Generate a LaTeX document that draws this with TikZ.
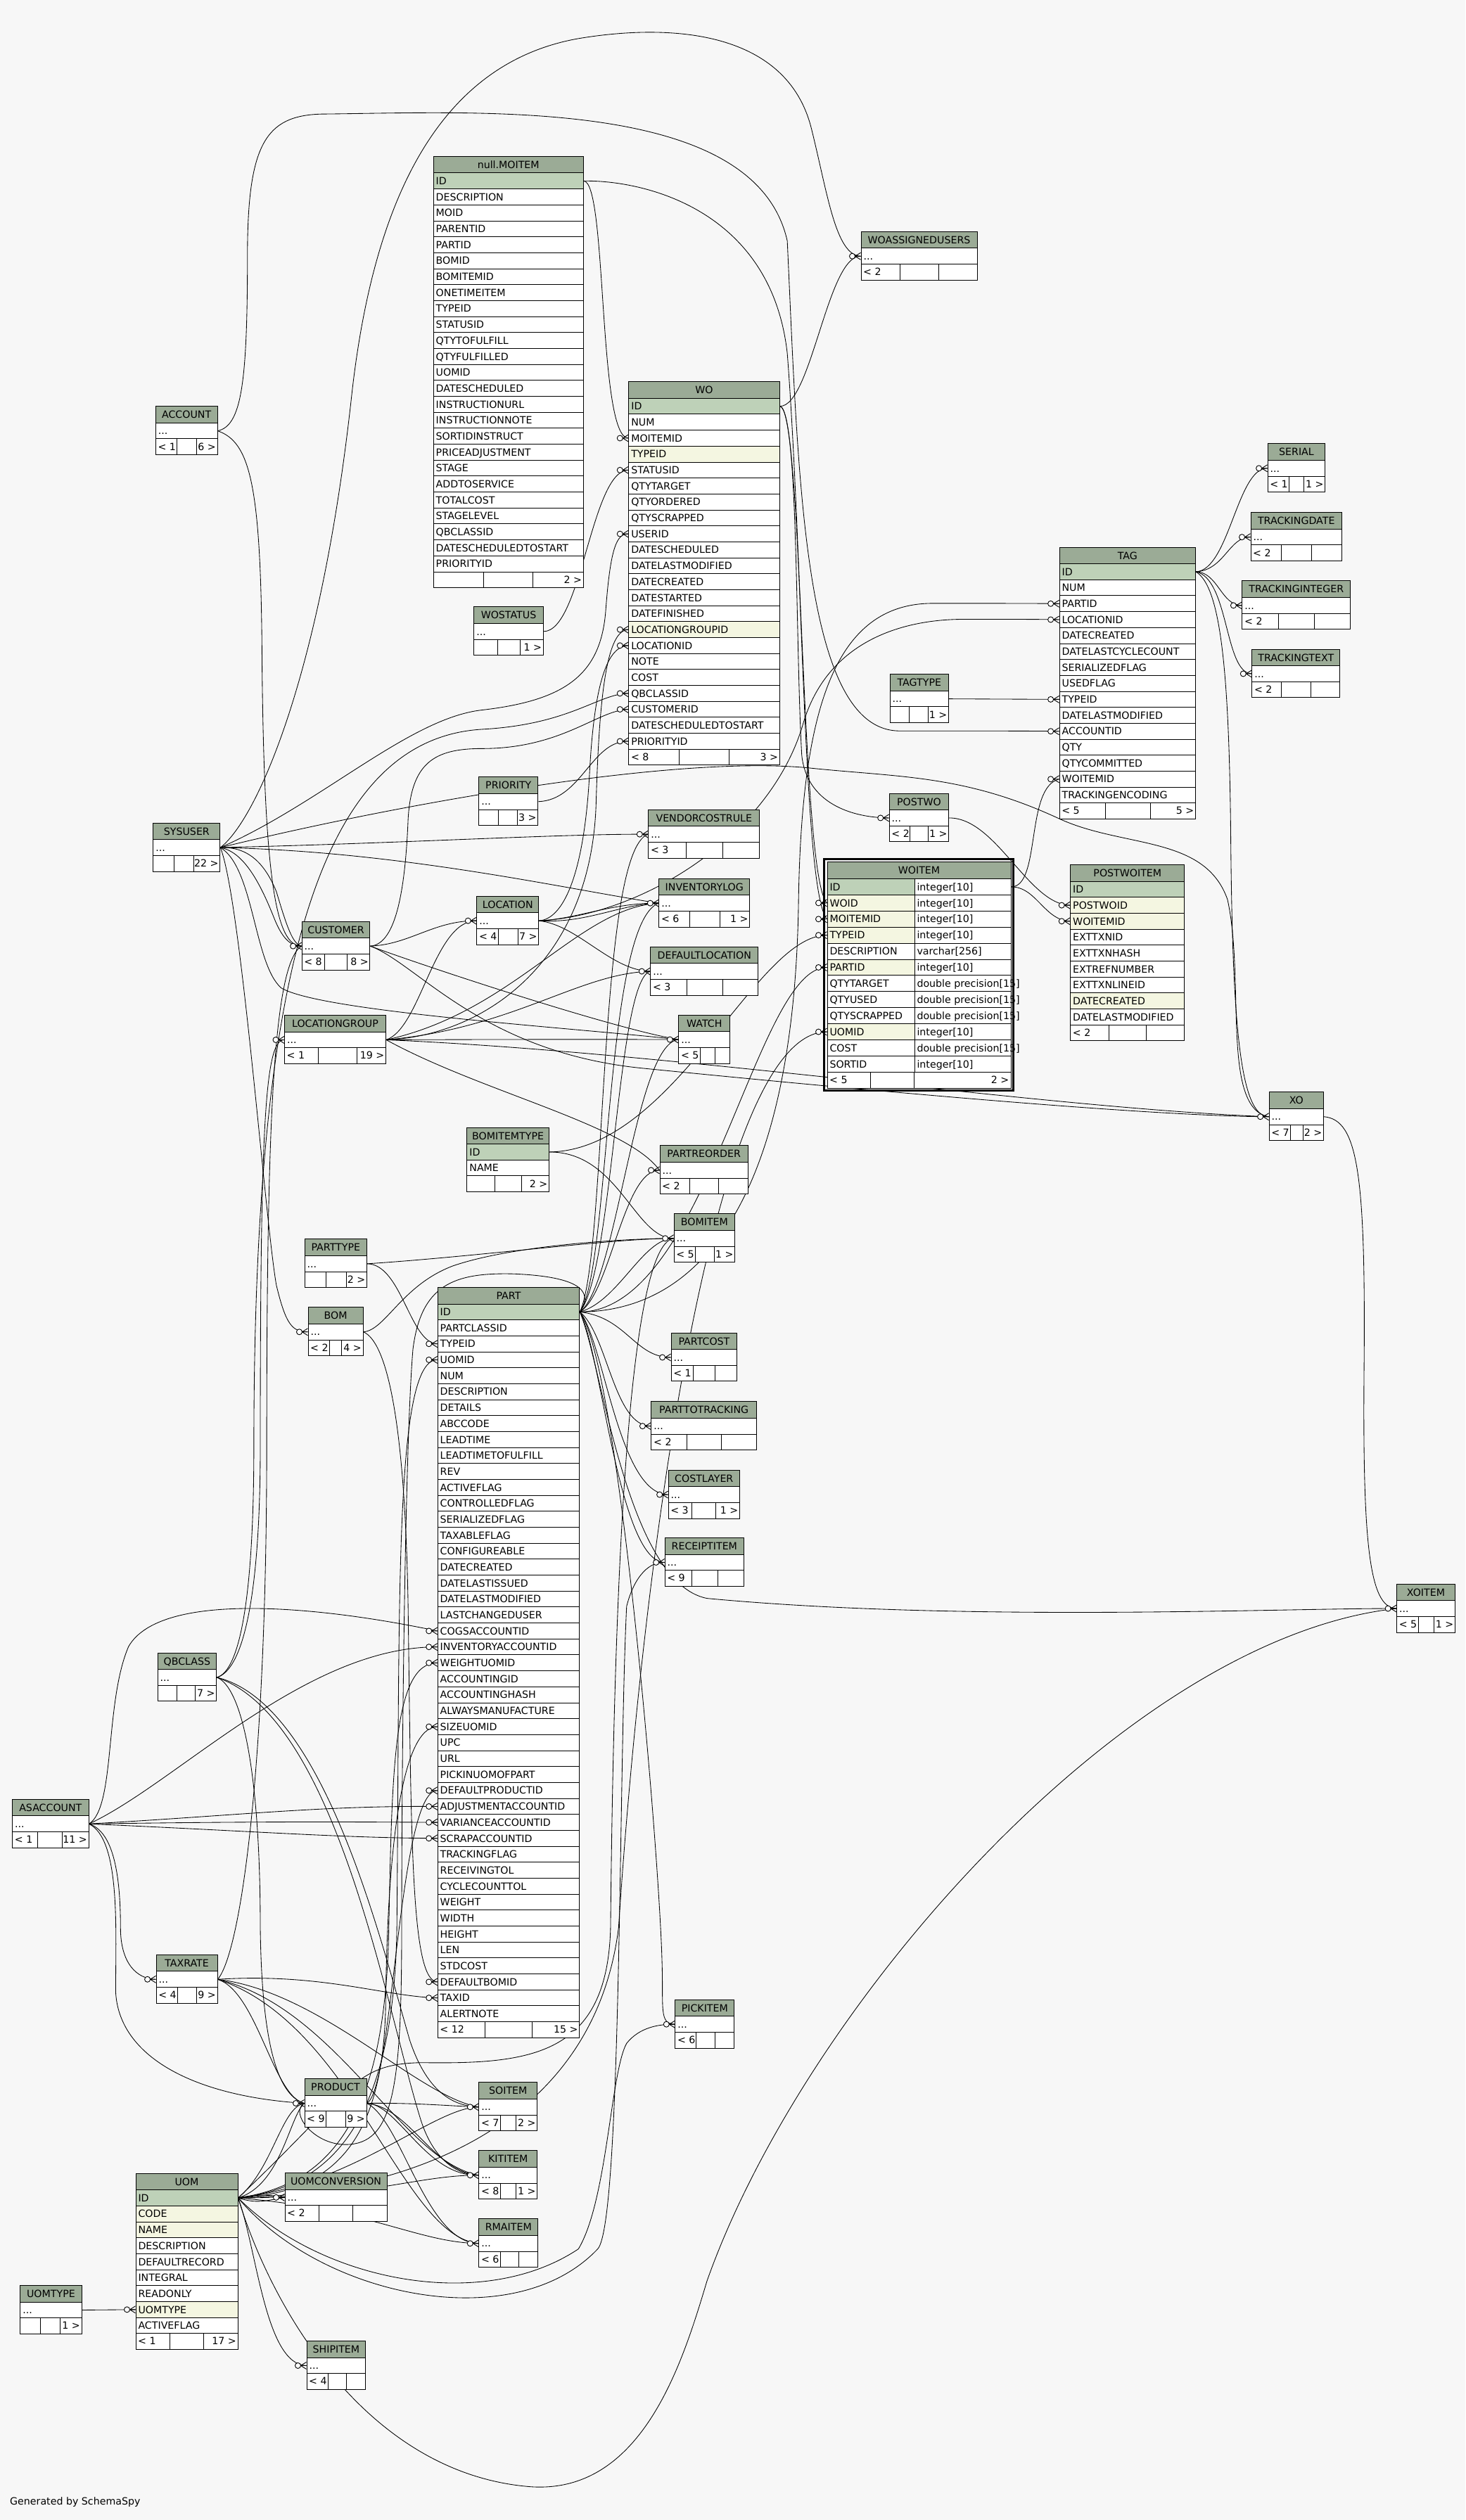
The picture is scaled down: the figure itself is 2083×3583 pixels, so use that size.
\documentclass[tikz,border=0pt]{standalone}
\usepackage{fontspec}
\setmainfont{DejaVu Sans}
\pgfdeclarelayer{back}
\pgfdeclarelayer{edges}
\pgfsetlayers{back,edges,main}
\definecolor{bgc}{HTML}{F7F7F7}
\definecolor{chd}{HTML}{9BAB96}
\definecolor{cp}{HTML}{BED1B8}
\definecolor{cy}{HTML}{F4F6E1}
\definecolor{cw}{HTML}{FFFFFF}
\newcommand\tfont{\fontsize{14.2}{17}\selectfont}
\tikzset{
  thd/.style={draw=black, line width=1pt, fill=chd, anchor=north west, inner sep=0pt, minimum height=23.6pt, text height=10.4pt, text depth=0pt, font=\tfont},
  trow/.style={draw=black, line width=1pt, anchor=north west, inner sep=0pt, minimum height=22.68pt, text height=10.4pt, text depth=0pt, font=\tfont},
  ftx/.style={inner sep=0pt, text height=10.4pt, text depth=0pt, font=\tfont},
  rel/.style={line width=0.85pt, draw=black},
  mk/.style={line width=0.9pt, draw=black},
}
\newcommand\dbt[6]{%
  \xdef\tbx{#2}\xdef\tby{#3}\xdef\tbw{#4}%
  \node[thd, minimum width=#4pt] (#1) at (#2,#3) {#5};
  \foreach[count=\i] \rk/\rt in {#6}{%
    \node[trow, fill=c\rk, minimum width=#4pt] (#1-\i) at (#2,{#3+23.6+(\i-1)*22.68}) {\makebox[#4pt][l]{\hspace{3.5pt}\rt}};
    \xdef\tbn{\i}%
  }%
}
\newcommand\dbf[5]{%
  \pgfmathsetmacro\fy{\tby+23.6+\tbn*22.68}%
  \node[trow, fill=white, minimum width=\tbw pt] (#1-f) at (\tbx,\fy) {};
  \draw[line width=1pt] (#2,\fy) -- (#2,\fy+22.68) (#3,\fy) -- (#3,\fy+22.68);
  \node[ftx, anchor=west] (#1-fl) at (\tbx+3.5,\fy+11.34) {#4};
  \node[ftx, anchor=east] (#1-fr) at (\tbx+\tbw-1.5,\fy+11.34) {#5};
}
\newcommand\smt[9]{%
  \node[thd, minimum width=#4pt] (#1) at (#2,#3) {#5};
  \node[trow, fill=white, minimum width=#4pt] (#1-1) at (#2,#3+23.6) {\makebox[#4pt][l]{\hspace{3.5pt}...}};
  \xdef\tbx{#2}\xdef\tby{#3}\xdef\tbw{#4}\xdef\tbn{1}%
  \dbf{#1}{#6}{#7}{#8}{#9}%
}
\newcommand\fkm[1]{%
  \draw[mk] ([xshift=-8pt]#1.west) -- ([yshift=5pt]#1.west) ([xshift=-8pt]#1.west) -- ([yshift=-5pt]#1.west) ([xshift=-8pt]#1.west) -- (#1.west);
  \draw[mk, fill=white] ([xshift=-12pt]#1.west) circle[radius=4pt];
}
\begin{document}
\begin{tikzpicture}[x=1pt,y=-1pt]
\begin{pgfonlayer}{back}
\fill[bgc] (0,0) rectangle (2083,3583);
\end{pgfonlayer}
\useasboundingbox (0,0) rectangle (2083,3583);

% ---------------- tables ----------------
\dbt{moi}{615.7}{221.9}{213}{null.MOITEM}{p/ID,w/DESCRIPTION,w/MOID,w/PARENTID,w/PARTID,w/BOMID,w/BOMITEMID,w/ONETIMEITEM,w/TYPEID,w/STATUSID,w/QTYTOFULFILL,w/QTYFULFILLED,w/UOMID,w/DATESCHEDULED,w/INSTRUCTIONURL,w/INSTRUCTIONNOTE,w/SORTIDINSTRUCT,w/PRICEADJUSTMENT,w/STAGE,w/ADDTOSERVICE,w/TOTALCOST,w/STAGELEVEL,w/QBCLASSID,w/DATESCHEDULEDTOSTART,w/PRIORITYID}
\dbf{moi}{687.3}{757.3}{}{2 >}

\dbt{wo}{893.3}{542.2}{214.4}{WO}{p/ID,w/NUM,w/MOITEMID,y/TYPEID,w/STATUSID,w/QTYTARGET,w/QTYORDERED,w/QTYSCRAPPED,w/USERID,w/DATESCHEDULED,w/DATELASTMODIFIED,w/DATECREATED,w/DATESTARTED,w/DATEFINISHED,y/LOCATIONGROUPID,w/LOCATIONID,w/NOTE,w/COST,w/QBCLASSID,w/CUSTOMERID,w/DATESCHEDULEDTOSTART,w/PRIORITYID}
\dbf{wo}{965.3}{1036.7}{< 8}{3 >}

\smt{wau}{1223.5}{328.8}{165}{WOASSIGNEDUSERS}{1279.2}{1334}{< 2}{}
\smt{acc}{220.8}{577.2}{87.7}{ACCOUNT}{251.4}{279.8}{< 1}{6 >}
\smt{sys}{217.4}{1169.6}{94.9}{SYSUSER}{247.6}{275.5}{}{22 >}
\smt{cus}{428.6}{1309.7}{96.8}{CUSTOMER}{461.5}{493.7}{< 8}{8 >}
\smt{lg}{404}{1443}{144}{LOCATIONGROUP}{452}{507}{< 1}{19 >}
\smt{wos}{673.3}{862.4}{98.4}{WOSTATUS}{707.3}{739.3}{}{1 >}
\smt{pri}{680.3}{1104.3}{84}{PRIORITY}{708.3}{735.7}{}{3 >}
\smt{vcr}{921.3}{1150.7}{158}{VENDORCOSTRULE}{975.3}{1027.3}{< 3}{}
\smt{loc}{677.3}{1273.7}{88}{LOCATION}{708.3}{736.3}{< 4}{7 >}
\smt{inv}{936.3}{1248.7}{129}{INVENTORYLOG}{980.3}{1023.3}{< 6}{1 >}
\smt{dl}{924.3}{1345.6}{153}{DEFAULTLOCATION}{976.3}{1027.7}{< 3}{}
\smt{wat}{964.3}{1442.6}{73}{WATCH}{995.7}{1016}{< 5}{}
\dbt{bit}{663.4}{1602.5}{116.5}{BOMITEMTYPE}{p/ID,w/NAME}
\dbf{bit}{703.6}{741.5}{}{2 >}
\smt{pro}{937.5}{1628.4}{125.4}{PARTREORDER}{980.4}{1021.4}{< 2}{}
\smt{bi}{957.6}{1725.3}{86.6}{BOMITEM}{988.4}{1015.6}{< 5}{1 >}
\smt{pt}{432.6}{1761.4}{88.4}{PARTTYPE}{463.4}{492.4}{}{2 >}
\smt{bom}{437.5}{1858.3}{78.1}{BOM}{468.3}{485.3}{< 2}{4 >}

\dbt{part}{621.7}{1829.9}{201.6}{PART}{p/ID,w/PARTCLASSID,w/TYPEID,w/UOMID,w/NUM,w/DESCRIPTION,w/DETAILS,w/ABCCODE,w/LEADTIME,w/LEADTIMETOFULFILL,w/REV,w/ACTIVEFLAG,w/CONTROLLEDFLAG,w/SERIALIZEDFLAG,w/TAXABLEFLAG,w/CONFIGUREABLE,w/DATECREATED,w/DATELASTISSUED,w/DATELASTMODIFIED,w/LASTCHANGEDUSER,w/COGSACCOUNTID,w/INVENTORYACCOUNTID,w/WEIGHTUOMID,w/ACCOUNTINGID,w/ACCOUNTINGHASH,w/ALWAYSMANUFACTURE,w/SIZEUOMID,w/UPC,w/URL,w/PICKINUOMOFPART,w/DEFAULTPRODUCTID,w/ADJUSTMENTACCOUNTID,w/VARIANCEACCOUNTID,w/SCRAPACCOUNTID,w/TRACKINGFLAG,w/RECEIVINGTOL,w/CYCLECOUNTTOL,w/WEIGHT,w/WIDTH,w/HEIGHT,w/LEN,w/STDCOST,w/DEFAULTBOMID,w/TAXID,w/ALERTNOTE}
\dbf{part}{689.3}{756.7}{< 12}{15 >}

\smt{pc}{953.6}{1894.5}{93.7}{PARTCOST}{985.3}{1016.5}{< 1}{}
\smt{ptt}{925.4}{1992.2}{149.6}{PARTTOTRACKING}{976.3}{1025.4}{< 2}{}
\smt{cl}{949.6}{2089.6}{101.3}{COSTLAYER}{983.9}{1017.4}{< 3}{1 >}
\smt{ri}{944.6}{2186}{112.5}{RECEIPTITEM}{983}{1020.5}{< 9}{}
\smt{qb}{223.5}{2349.5}{83.8}{QBCLASS}{251.4}{277.5}{}{7 >}
\smt{asa}{17.2}{2557.8}{108.3}{ASACCOUNT}{53.6}{88.8}{< 1}{11 >}
\smt{tax}{221.6}{2778.8}{86.9}{TAXRATE}{252.6}{279.8}{< 4}{9 >}
\smt{prod}{432.5}{2955}{88}{PRODUCT}{463.4}{491.4}{< 9}{9 >}
\smt{uc}{404.5}{3088.9}{145.1}{UOMCONVERSION}{453.1}{501.3}{< 2}{}
\dbt{uom}{192.5}{3089.6}{145}{UOM}{p/ID,y/CODE,y/NAME,w/DESCRIPTION,w/DEFAULTRECORD,w/INTEGRAL,w/READONLY,y/UOMTYPE,w/ACTIVEFLAG}
\dbf{uom}{241.5}{289.7}{< 1}{17 >}
\smt{ut}{28.3}{3249}{87.3}{UOMTYPE}{57.4}{85.3}{}{1 >}
\smt{ship}{435.5}{3328}{83.8}{SHIPITEM}{466}{492}{< 4}{}
\smt{pick}{959.3}{2842.7}{84}{PICKITEM}{989.3}{1016.3}{< 6}{}
\smt{so}{680.3}{2960.3}{83}{SOITEM}{711.3}{733.7}{< 7}{2 >}
\smt{kit}{680.3}{3057.3}{83}{KITITEM}{711.3}{733.7}{< 8}{1 >}
\smt{rma}{680.3}{3154.3}{84}{RMAITEM}{711.3}{737.3}{< 6}{}

\dbt{tag}{1505.6}{777.5}{193.3}{TAG}{p/ID,w/NUM,w/PARTID,w/LOCATIONID,w/DATECREATED,w/DATELASTCYCLECOUNT,w/SERIALIZEDFLAG,w/USEDFLAG,w/TYPEID,w/DATELASTMODIFIED,w/ACCOUNTID,w/QTY,w/QTYCOMMITTED,w/WOITEMID,w/TRACKINGENCODING}
\dbf{tag}{1571.3}{1635.5}{< 5}{5 >}
\smt{ser}{1801.6}{630.4}{81.7}{SERIAL}{1832}{1853.4}{< 1}{1 >}
\smt{td}{1777.5}{728.2}{129.5}{TRACKINGDATE}{1821.3}{1864.1}{< 2}{}
\smt{ti}{1765.4}{825.4}{153.6}{TRACKINGINTEGER}{1817.2}{1868.6}{< 2}{}
\smt{tt}{1779.3}{922.5}{125}{TRACKINGTEXT}{1821.3}{1863.2}{< 2}{}
\smt{tty}{1264.6}{958.2}{83.4}{TAGTYPE}{1292.2}{1319.5}{}{1 >}
\smt{pw}{1263.7}{1127.5}{84.5}{POSTWO}{1293.5}{1319.6}{< 2}{1 >}
\dbt{pwi}{1521.2}{1229}{162.2}{POSTWOITEM}{p/ID,y/POSTWOID,y/WOITEMID,w/EXTTXNID,w/EXTTXNHASH,w/EXTREFNUMBER,w/EXTTXNLINEID,y/DATECREATED,w/DATELASTMODIFIED}
\dbf{pwi}{1576.3}{1629.4}{< 2}{}
\smt{xo}{1803.6}{1552.3}{77.4}{XO}{1834.5}{1852.4}{< 7}{2 >}
\smt{xoi}{1985.1}{2251.6}{82.8}{XOITEM}{2016}{2038}{< 5}{1 >}

% WOITEM (detailed, two columns)
\node[thd, minimum width=261pt, minimum height=24pt] (woi) at (1175.5,1225) {WOITEM};
\foreach[count=\i] \rk/\ra/\rb in {p/ID/integer[10], y/WOID/integer[10], y/MOITEMID/integer[10], y/TYPEID/integer[10], w/DESCRIPTION/varchar[256], y/PARTID/integer[10], w/QTYTARGET/double precision[15], w/QTYUSED/double precision[15], w/QTYSCRAPPED/double precision[15], y/UOMID/integer[10], w/COST/double precision[15], w/SORTID/integer[10]}{
  \node[trow, fill=c\rk, minimum width=124pt, minimum height=22.9pt] (woi-\i) at (1175.5,{1249+(\i-1)*22.9}) {\makebox[124pt][l]{\hspace{3.5pt}\ra}};
  \node[trow, fill=white, minimum width=137pt, minimum height=22.9pt] (woi-t\i) at (1299.5,{1249+(\i-1)*22.9}) {\makebox[137pt][l]{\hspace{3.5pt}\rb}};
}
\node[trow, fill=white, minimum width=261pt, minimum height=22.9pt] (woi-f) at (1175.5,1523.8) {};
\draw[line width=1pt] (1237.5,1523.8) -- (1237.5,1546.7) (1299.5,1523.8) -- (1299.5,1546.7);
\node[ftx, anchor=west] (woi-fl) at (1179,1535.25) {< 5};
\node[ftx, anchor=east] (woi-fr) at (1434.5,1535.25) {2 >};
\draw[line width=3pt] (1171.5,1221) rectangle (1440.5,1550.5);

\node[ftx, anchor=west] (gen) at (14,3556) {Generated by SchemaSpy};

% ---------------- connectors ----------------
\begin{pgfonlayer}{edges}
\begin{scope}[x=2.284pt,y=-2.284pt]
% WO foreign keys
\draw[rel] (moi-1.east) .. controls (378,113) and (372,272.6) .. (wo-3.west);
\draw[rel] (wos-1.east) .. controls (362,393) and (368,292.5) .. (wo-5.west);
\draw[rel] (sys-1.east) .. controls (200,500) and (255,447) .. (300,442) .. controls (352,436) and (374,420) .. (377,380) .. controls (380,340) and (384,332.2) .. (wo-9.west);
\draw[rel] (lg-1.east) .. controls (300,645) and (368,600) .. (371,500) .. controls (373,430) and (378,392) .. (wo-15.west);
\draw[rel] (loc-1.east) .. controls (352,572) and (364,540) .. (367,480) .. controls (370,425) and (378,402) .. (wo-16.west);
\draw[rel] (qb-1.east) .. controls (150,1040) and (158,990) .. (158,900) .. controls (158,600) and (200,460) .. (300,454) .. controls (355,451) and (372,432) .. (wo-19.west);
\draw[rel] (cus-1.east) .. controls (245,588) and (252,560) .. (254,510) .. controls (256,475) and (270,466) .. (300,466) .. controls (350,466) and (372,442) .. (wo-20.west);
\draw[rel] (pri-1.east) .. controls (362,498) and (368,461) .. (wo-22.west);
% WO children
\draw[rel] (wo-1.east) .. controls (505,253) and (515,159) .. (wau-1.west);
\draw[rel] (wo-1.east) .. controls (500,253) and (498,545) .. (woi-2.west);
\draw[rel] (wo-1.east) .. controls (497,256) and (495,400) .. (499,470) .. controls (502,500) and (530,509) .. (pw-1.west);
\draw[rel] (sys-1.east) .. controls (160,510) and (200,420) .. (219,245) .. controls (232,130) and (270,40) .. (360,24) .. controls (420,14) and (490,20) .. (505,80) .. controls (515,120) and (520,159) .. (wau-1.west);
% WOITEM foreign keys
\draw[rel] (moi-1.east) .. controls (400,112) and (480,130) .. (490,220) .. controls (500,350) and (500,555) .. (woi-3.west);
\draw[rel] (bit-1.east) .. controls (420,716) and (470,582) .. (woi-4.west);
\draw[rel] (part-1.east) .. controls (440,816) and (470,602) .. (woi-6.west);
\draw[rel] (uom-1.east) .. controls (260,1365) and (370,1320) .. (385,1200) .. controls (398,1000) and (440,642) .. (woi-10.west);
% WOITEM children
\draw[rel] (woi-t1.east) .. controls (648,552) and (638,490) .. (tag-14.west);
\draw[rel] (woi-t1.east) .. controls (645,552) and (650,573) .. (pwi-3.west);
\draw[rel] (pw-1.east) .. controls (620,509) and (640,563) .. (pwi-2.west);
% TAG foreign keys
\draw[rel] (part-1.east) .. controls (450,816) and (495,720) .. (497,560) .. controls (499,440) and (520,376) .. (580,375.6) .. controls (620,375.6) and (640,375.6) .. (tag-3.west);
\draw[rel] (loc-1.east) .. controls (400,570) and (480,520) .. (500,450) .. controls (515,400) and (560,385.5) .. (600,385.5) .. controls (630,385.5) and (645,385.5) .. (tag-4.west);
\draw[rel] (tty-1.east) -- (tag-9.west);
\draw[rel] (acc-1.east) .. controls (150,265) and (154,240) .. (154,160) .. controls (154,90) and (165,72) .. (200,71) .. controls (300,70) and (470,60) .. (490,150) .. controls (497,300) and (500,455) .. (560,455) .. controls (610,455) and (640,455) .. (tag-11.west);
% TAG children
\draw[rel] (tag-1.east) .. controls (765,355) and (770,291) .. (ser-1.west);
\draw[rel] (tag-1.east) .. controls (762,355) and (765,334) .. (td-1.west);
\draw[rel] (tag-1.east) .. controls (758,356) and (760,377) .. (ti-1.west);
\draw[rel] (tag-1.east) .. controls (765,360) and (762,419) .. (tt-1.west);
\draw[rel] (tag-1.east) .. controls (760,365) and (765,420) .. (766,520) .. controls (767,640) and (772,695) .. (xo-1.west);
% XO
\draw[rel] (lg-1.east) .. controls (420,655) and (650,690) .. (xo-1.west);
\draw[rel] (cus-1.east) .. controls (260,600) and (300,655) .. (400,665) .. controls (550,680) and (720,695) .. (xo-1.west);
\draw[rel] (sys-1.east) .. controls (250,500) and (420,470) .. (503,478) .. controls (560,484) and (600,482) .. (660,510) .. controls (700,528) and (750,520) .. (764,560) .. controls (775,610) and (760,690) .. (xo-1.west);
\draw[rel] (xo-1.east) .. controls (845,697) and (850,730) .. (849,850) .. controls (848,960) and (852,1001) .. (xoi-1.west);
\draw[rel] (part-1.east) .. controls (375,850) and (390,985) .. (440,995) .. controls (600,1010) and (800,1001) .. (xoi-1.west);
\draw[rel] (uom-1.east) .. controls (170,1440) and (230,1540) .. (330,1548) .. controls (400,1553) and (425,1470) .. (440,1420) .. controls (500,1250) and (700,1020) .. (xoi-1.west);
% PART foreign keys
\draw[rel] (pt-1.east) .. controls (250,787) and (255,836) .. (part-3.west);
\draw[rel] (uom-1.east) .. controls (200,1362) and (245,1330) .. (247,1200) .. controls (249,1000) and (245,846) .. (part-4.west);
\draw[rel] (asa-1.east) .. controls (72,1125) and (65,1060) .. (80,1025) .. controls (100,990) and (200,1000) .. (part-21.west);
\draw[rel] (asa-1.east) .. controls (110,1110) and (190,1025) .. (part-22.west);
\draw[rel] (uom-1.east) .. controls (205,1360) and (240,1320) .. (242,1200) .. controls (244,1100) and (245,1035) .. (part-23.west);
\draw[rel] (uom-1.east) .. controls (210,1365) and (238,1330) .. (240,1250) .. controls (241,1150) and (250,1075) .. (part-27.west);
\draw[rel] (prod-1.east) .. controls (245,1300) and (248,1114) .. (part-31.west);
\draw[rel] (asa-1.east) .. controls (150,1130) and (200,1124) .. (part-32.west);
\draw[rel] (asa-1.east) .. controls (150,1134) and (200,1134) .. (part-33.west);
\draw[rel] (asa-1.east) .. controls (160,1140) and (210,1144) .. (part-34.west);
\draw[rel] (bom-1.east) .. controls (240,835) and (252,880) .. (254,1000) .. controls (256,1150) and (256,1233) .. (part-43.west);
\draw[rel] (tax-1.east) .. controls (200,1228) and (240,1243) .. (part-44.west);
% PART children
\draw[rel] (part-1.east) .. controls (380,805) and (388,728) .. (pro-1.west);
\draw[rel] (part-1.east) .. controls (385,810) and (400,771) .. (bi-1.west);
\draw[rel] (part-1.east) .. controls (390,820) and (395,845) .. (pc-1.west);
\draw[rel] (part-1.east) .. controls (378,830) and (382,888) .. (ptt-1.west);
\draw[rel] (part-1.east) .. controls (376,835) and (385,930) .. (cl-1.west);
\draw[rel] (part-1.east) .. controls (374,840) and (385,972) .. (ri-1.west);
\draw[rel] (part-1.east) .. controls (380,790) and (376,575) .. (inv-1.west);
\draw[rel] (part-1.east) .. controls (382,790) and (384,610) .. (dl-1.west);
\draw[rel] (part-1.east) .. controls (378,780) and (372,530) .. (vcr-1.west);
\draw[rel] (part-1.east) .. controls (384,800) and (395,650) .. (wat-1.west);
\draw[rel] (part-1.east) .. controls (368,806) and (366,795) .. (320,793) .. controls (282,792) and (262,800) .. (257,840) .. controls (252,900) and (250,1100) .. (250,1200) .. controls (250,1300) and (245,1335) .. (215,1335) .. controls (195,1335) and (180,1315) .. (prod-1.west);
\draw[rel] (part-1.east) .. controls (385,850) and (410,1150) .. (412,1220) .. controls (413,1250) and (410,1260) .. (pick-1.west);
% BOMITEM, BOM
\draw[rel] (bit-1.east) .. controls (385,717) and (395,771) .. (bi-1.west);
\draw[rel] (pt-1.east) .. controls (300,782) and (380,771) .. (bi-1.west);
\draw[rel] (bom-1.east) .. controls (240,828) and (250,800) .. (282,788) .. controls (320,775) and (390,771) .. (bi-1.west);
\draw[rel] (sys-1.east) .. controls (150,560) and (165,760) .. (172,800) .. controls (178,825) and (182,829) .. (bom-1.west);
% LOCATION, LOCATIONGROUP, CUSTOMER
\draw[rel] (lg-1.east) .. controls (262,640) and (270,573) .. (loc-1.west);
\draw[rel] (cus-1.east) .. controls (255,588) and (270,573) .. (loc-1.west);
\draw[rel] (qb-1.east) .. controls (150,1040) and (162,1000) .. (162,900) .. controls (162,700) and (165,647) .. (lg-1.west);
\draw[rel] (sys-1.east) .. controls (150,530) and (160,545) .. (170,570) .. controls (175,583) and (180,589) .. (cus-1.west);
\draw[rel] (sys-1.east) .. controls (155,527) and (165,538) .. (172,555) .. controls (178,575) and (182,588) .. (cus-1.west);
\draw[rel] (tax-1.east) .. controls (150,1215) and (166,1100) .. (166,900) .. controls (166,700) and (170,600) .. (cus-1.west);
\draw[rel] (acc-1.east) .. controls (155,275) and (162,300) .. (163,400) .. controls (164,550) and (172,589) .. (cus-1.west);
% VENDORCOSTRULE, INVENTORYLOG, DEFAULTLOCATION, WATCH, PARTREORDER
\draw[rel] (sys-1.east) .. controls (250,525) and (350,519) .. (vcr-1.west);
\draw[rel] (sys-1.east) .. controls (250,530) and (350,553) .. (inv-1.west);
\draw[rel] (lg-1.east) .. controls (320,630) and (360,565) .. (inv-1.west);
\draw[rel] (loc-1.east) .. controls (360,572) and (380,562) .. (inv-1.west);
\draw[rel] (loc-1.east) .. controls (365,575) and (385,563) .. (inv-1.west);
\draw[rel] (loc-1.east) .. controls (360,576) and (380,604) .. (dl-1.west);
\draw[rel] (lg-1.east) .. controls (320,640) and (360,606) .. (dl-1.west);
\draw[rel] (lg-1.east) .. controls (320,647) and (380,647) .. (wat-1.west);
\draw[rel] (sys-1.east) .. controls (158,540) and (158,600) .. (175,615) .. controls (200,630) and (360,640) .. (wat-1.west);
\draw[rel] (cus-1.east) .. controls (260,600) and (380,640) .. (wat-1.west);
\draw[rel] (lg-1.east) .. controls (300,680) and (390,700) .. (pro-1.west);
% PRODUCT, TAXRATE
\draw[rel] (asa-1.east) .. controls (75,1145) and (72,1200) .. (72,1240) .. controls (74,1280) and (120,1305) .. (prod-1.west);
\draw[rel] (qb-1.east) .. controls (150,1050) and (162,1100) .. (162,1200) .. controls (163,1280) and (175,1305) .. (prod-1.west);
\draw[rel] (tax-1.east) .. controls (160,1240) and (170,1305) .. (prod-1.west);
\draw[rel] (uom-1.east) .. controls (170,1350) and (175,1312) .. (prod-1.west);
\draw[rel] (uom-1.east) .. controls (175,1360) and (180,1318) .. (prod-1.west);
\draw[rel] (asa-1.east) .. controls (70,1140) and (75,1165) .. (75,1200) .. controls (75,1222) and (85,1232) .. (tax-1.west);
% SOITEM, KITITEM, RMAITEM
\draw[rel] (prod-1.east) .. controls (260,1309) and (280,1311) .. (so-1.west);
\draw[rel] (tax-1.east) .. controls (200,1240) and (260,1305) .. (so-1.west);
\draw[rel] (uom-1.east) .. controls (220,1360) and (270,1312) .. (so-1.west);
\draw[rel] (qb-1.east) .. controls (200,1060) and (235,1200) .. (255,1270) .. controls (265,1300) and (280,1311) .. (so-1.west);
\draw[rel] (prod-1.east) .. controls (255,1312) and (270,1352) .. (kit-1.west);
\draw[rel] (prod-1.east) .. controls (248,1310) and (265,1355) .. (kit-1.west);
\draw[rel] (tax-1.east) .. controls (210,1250) and (250,1345) .. (kit-1.west);
\draw[rel] (uom-1.east) .. controls (230,1368) and (260,1354) .. (kit-1.west);
\draw[rel] (qb-1.east) .. controls (210,1070) and (240,1250) .. (262,1320) .. controls (270,1345) and (285,1354) .. (kit-1.west);
\draw[rel] (prod-1.east) .. controls (250,1320) and (265,1396) .. (rma-1.west);
\draw[rel] (tax-1.east) .. controls (220,1260) and (250,1392) .. (rma-1.west);
\draw[rel] (uom-1.east) .. controls (230,1375) and (260,1396) .. (rma-1.west);
% UOM children
\draw[rel] (uom-1.east) .. controls (160,1400) and (165,1472) .. (ship-1.west);
\draw[rel] (uom-1.east) .. controls (160,1366) and (165,1366) .. (uc-1.west);
\draw[rel] (uom-1.east) .. controls (160,1372) and (165,1370) .. (uc-1.west);
\draw[rel] (ut-1.east) -- (uom-8.west);
\draw[rel] (uom-1.east) .. controls (200,1420) and (300,1440) .. (360,1400) .. controls (378,1370) and (380,1290) .. (390,1272) .. controls (398,1262) and (410,1260) .. (pick-1.west);
\draw[rel] (uom-1.east) .. controls (200,1430) and (320,1455) .. (372,1400) .. controls (387,1384) and (385,1100) .. (390,1000) .. controls (395,980) and (405,972) .. (ri-1.west);
\draw[rel] (uom-1.east) .. controls (220,1300) and (220,1285) .. (262,1284) .. controls (330,1285) and (378,1280) .. (380,1200) .. controls (382,1000) and (390,775) .. (bi-1.west);
\end{scope}
\end{pgfonlayer}

% ---------------- crow's-foot markers ----------------
\foreach \n in {wo-3,wo-5,wo-9,wo-15,wo-16,wo-19,wo-20,wo-22,wau-1,woi-2,woi-3,woi-4,woi-6,woi-10,tag-3,tag-4,tag-9,tag-11,tag-14,pwi-2,pwi-3,pw-1,ser-1,td-1,ti-1,tt-1,xo-1,xoi-1,part-3,part-4,part-21,part-22,part-23,part-27,part-31,part-32,part-33,part-34,part-43,part-44,pro-1,bi-1,pc-1,ptt-1,cl-1,ri-1,inv-1,dl-1,vcr-1,wat-1,prod-1,pick-1,loc-1,lg-1,cus-1,bom-1,tax-1,so-1,kit-1,rma-1,ship-1,uc-1,uom-8}{\fkm{\n}}
\end{tikzpicture}
\end{document}
